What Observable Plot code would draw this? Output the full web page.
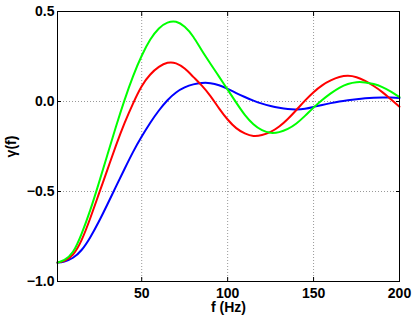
<!DOCTYPE html>
<html><head><meta charset="utf-8">
<script src="https://cdn.jsdelivr.net/npm/d3@7"></script>
<script src="https://cdn.jsdelivr.net/npm/@observablehq/plot@0.6"></script>
<style>html,body{margin:0;padding:0;background:#fff;}</style>
</head><body><div id="chart"></div>
<script>
const freq  = [1, 5, 10, 15, 20, 25, 30, 35, 40, 45, 50, 55, 60, 65, 70, 75, 80, 85, 90, 95, 100, 105, 110, 115, 120, 125, 130, 135, 140, 145, 150, 155, 160, 165, 170, 175, 180, 185, 190, 195, 200];
const blue  = [-0.895, -0.889, -0.868, -0.825, -0.755, -0.668, -0.572, -0.473, -0.375, -0.28, -0.195, -0.118, -0.05, 0.007, 0.05, 0.078, 0.095, 0.103, 0.102, 0.09, 0.07, 0.047, 0.025, 0.005, -0.012, -0.025, -0.035, -0.042, -0.044, -0.04, -0.03, -0.019, -0.009, 0.0, 0.007, 0.013, 0.018, 0.021, 0.022, 0.022, 0.02];
const red   = [-0.895, -0.885, -0.85, -0.77, -0.65, -0.515, -0.38, -0.245, -0.12, -0.01, 0.085, 0.15, 0.192, 0.215, 0.212, 0.183, 0.137, 0.088, 0.03, -0.038, -0.1, -0.148, -0.177, -0.191, -0.186, -0.169, -0.139, -0.097, -0.047, 0.005, 0.052, 0.09, 0.117, 0.136, 0.143, 0.135, 0.114, 0.086, 0.052, 0.012, -0.029];
const green = [-0.895, -0.88, -0.835, -0.735, -0.605, -0.455, -0.297, -0.14, 0.008, 0.141, 0.254, 0.344, 0.406, 0.438, 0.443, 0.415, 0.36, 0.283, 0.21, 0.138, 0.066, -0.006, -0.074, -0.126, -0.159, -0.174, -0.17, -0.152, -0.122, -0.08, -0.034, 0.008, 0.045, 0.076, 0.097, 0.107, 0.106, 0.097, 0.08, 0.055, 0.024];
const seriesNames  = ["s1", "s2", "s3"];
const seriesColors = ["#0000ff", "#ff0000", "#00ff00"];
const xTicks = [50, 100, 150, 200];
const yTicks = [-1, -0.5, 0, 0.5];
const xGrid = [50, 100, 150];
const yGrid = [-0.5, 0];

const seriesValues = [blue, red, green];
const rows = seriesNames.flatMap((name, k) => freq.map((f, i) => ({f, v: seriesValues[k][i], name})));

const chart = Plot.plot({
  width: 415, height: 319,
  marginLeft: 57, marginRight: 16, marginTop: 11, marginBottom: 38,
  style: {fontFamily: "'Liberation Sans', Arial, sans-serif", fontSize: "14px", fontWeight: "bold", background: "white", color: "black"},
  x: {domain: [1, 200]},
  y: {domain: [-1, 0.5]},
  color: {domain: seriesNames, range: seriesColors},
  marks: [
    Plot.gridX(xGrid, {stroke: "#999", strokeOpacity: 1, strokeDasharray: "1,2"}),
    Plot.gridY(yGrid, {stroke: "#999", strokeOpacity: 1, strokeDasharray: "1,2"}),
    Plot.line(rows, {x: "f", y: "v", z: "name", stroke: "name", strokeWidth: 2, curve: "natural"}),
    Plot.frame({stroke: "black"}),
    Plot.axisX(xTicks, {anchor: "bottom", tickSize: -4, tickPadding: 11, label: "f (Hz)", labelAnchor: "center", labelOffset: 30, labelArrow: "none"}),
    Plot.axisX(xTicks, {anchor: "top", tickSize: -4, tickFormat: () => "", label: null}),
    Plot.axisY(yTicks, {anchor: "left", tickSize: -4, tickPadding: 7, label: "γ(f)", labelAnchor: "center", labelOffset: 51, labelArrow: "none"}),
    Plot.axisY(yTicks, {anchor: "right", tickSize: -4, tickFormat: () => "", label: null})
  ]
});
document.getElementById("chart").appendChild(chart);
</script>
</body></html>
